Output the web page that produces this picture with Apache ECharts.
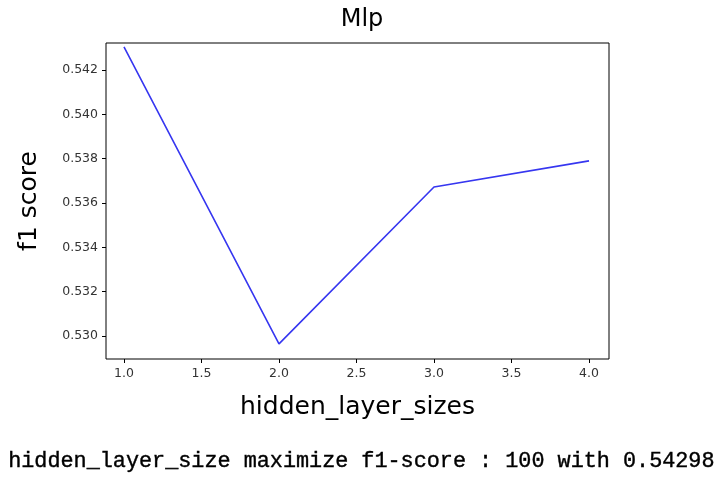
<!DOCTYPE html>
<html>
<head>
<meta charset="utf-8">
<script src="https://cdn.jsdelivr.net/npm/echarts@6/dist/echarts.min.js"></script>
<style>
  html, body { margin: 0; padding: 0; background: #fff; }
  #chart { width: 720px; height: 478px; }
</style>
</head>
<body>
<div id="chart"></div>
<script>
const hiddenLayerSizes = [1, 2, 3, 4]
const f1Scores = [0.54304, 0.52964, 0.53672, 0.53790]
const titleText = 'Mlp'
const footerText = 'hidden_layer_size maximize f1-score : 100 with 0.54298'

const chart = echarts.init(document.getElementById('chart'))
const labelFont = { fontFamily: 'DejaVu Sans', fontSize: 12.5, color: '#333' }

chart.setOption({
  animation: false,
  title: {
    text: titleText,
    left: 357, top: 3, textAlign: 'center',
    textStyle: { fontFamily: 'DejaVu Sans', fontSize: 24, fontWeight: 'normal', color: '#000' }
  },
  grid: {
    left: 106, right: 111, top: 43, bottom: 119,
    show: true, borderColor: '#000', borderWidth: 1
  },
  xAxis: {
    type: 'value',
    min: 0.884, max: 4.129, splitNumber: 6,
    name: 'hidden_layer_sizes', nameLocation: 'middle', nameGap: 36,
    nameTextStyle: { fontFamily: 'DejaVu Sans', fontSize: 25, color: '#000' },
    axisLine: { show: false },
    axisTick: { show: true, length: 4, lineStyle: { color: '#000' } },
    splitLine: { show: false },
    axisLabel: Object.assign({ showMinLabel: false, showMaxLabel: false, margin: 8,
      formatter: v => v.toFixed(1) }, labelFont)
  },
  yAxis: {
    type: 'value',
    min: 0.52896, max: 0.54322, splitNumber: 7,
    name: 'f1 score', nameLocation: 'middle', nameGap: 64,
    nameTextStyle: { fontFamily: 'DejaVu Sans', fontSize: 25, color: '#000' },
    axisLine: { show: false },
    axisTick: { show: true, length: 4, lineStyle: { color: '#000' } },
    splitLine: { show: false },
    axisLabel: Object.assign({ showMinLabel: false, showMaxLabel: false, margin: 8,
      formatter: v => v.toFixed(3) }, labelFont)
  },
  series: [{
    type: 'line',
    data: hiddenLayerSizes.map((x, i) => [x, f1Scores[i]]),
    showSymbol: false,
    lineStyle: { color: '#3636f0', width: 1.6 }
  }],
  graphic: [{
    type: 'text', left: 8, top: 450,
    style: { text: footerText, font: '21.8px "Liberation Mono", "DejaVu Sans Mono", monospace', fill: '#000', stroke: '#000', lineWidth: 0.4 }
  }]
})
</script>
</body>
</html>
